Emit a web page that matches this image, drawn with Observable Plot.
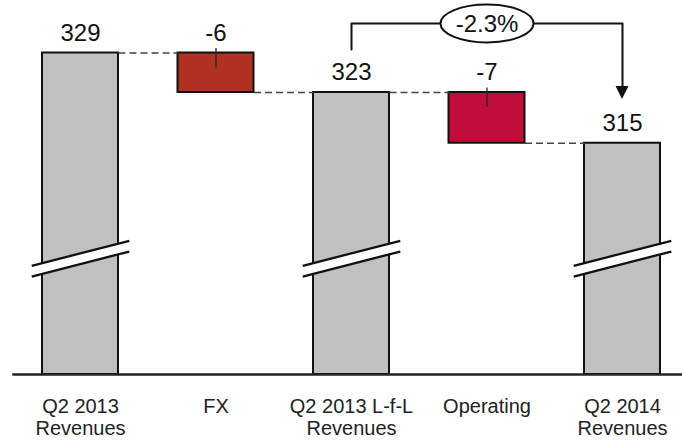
<!DOCTYPE html>
<html>
<head>
<meta charset="utf-8">
<script src="https://cdn.jsdelivr.net/npm/d3@7"></script>
<script src="https://cdn.jsdelivr.net/npm/@observablehq/plot@0.6"></script>
<style>
  html, body { margin: 0; padding: 0; background: #fff; }
  #chart svg { display: block; }
</style>
</head>
<body>
<div id="chart"></div>
<script>
// Revenue bridge, Q2 2013 -> Q2 2014
const categories = ["Q2 2013\nRevenues", "FX", "Q2 2013 L-f-L\nRevenues", "Operating", "Q2 2014\nRevenues"];
const kinds = ["total", "delta", "total", "delta", "total"];
const values = [328.7, -5.8, 322.9, -7.45, 315.45];

// styling
const colorFor = {total: "#c0c0c0", fx: "#b03222", op: "#c20c3a"};
const W = 682, H = 440;
const yDomain = [281.49, 336.41];           // bars are broken, baseline is not zero
const yRange = [374, 0];
const xDomain = [-0.5, 4.5];
const xRange = [12.25, 689.75];
const k = (yRange[0] - yRange[1]) / (yDomain[1] - yDomain[0]);   // px per unit (y)
const kx = (xRange[1] - xRange[0]) / (xDomain[1] - xDomain[0]);  // px per unit (x)
const py = px => px / k;
const px2x = px => px / kx;
const half = px2x(38);                        // half bar width
const base = yDomain[0];

// bars of the waterfall
let level = 0;
const bars = values.map((v, i) => {
  let y1, y2;
  if (kinds[i] === "total") { y1 = base; y2 = v; level = v; }
  else { y1 = level; y2 = level + v; level += v; }
  const fill = kinds[i] === "total" ? colorFor.total : (i === 1 ? colorFor.fx : colorFor.op);
  return {i, y1, y2, top: Math.max(y1, y2), end: level, fill, v, kind: kinds[i]};
});

// dashed connectors between consecutive bars
const connectors = bars.slice(0, -1).map(b => ({x1: b.i + half, x2: b.i + 1 - half, y: b.end}));

// axis-break marks on the total bars
const breakV = 298.5;
const bSpan = px2x(48.8), bRise = py(12.5), bGap = py(5.35);
const totals = bars.filter(b => b.kind === "total");
const breakArea = totals.flatMap(b => [
  {bar: b.i, x: b.i - bSpan, lo: breakV - bGap - bRise, hi: breakV + bGap - bRise},
  {bar: b.i, x: b.i + bSpan, lo: breakV - bGap + bRise, hi: breakV + bGap + bRise}
]);
const breakLines = totals.flatMap(b => [
  {x1: b.i - bSpan, x2: b.i + bSpan, y1: breakV + bGap - bRise, y2: breakV + bGap + bRise},
  {x1: b.i - bSpan, x2: b.i + bSpan, y1: breakV - bGap - bRise, y2: breakV - bGap + bRise}
]);

// small leader ticks on the delta bars
const deltas = bars.filter(b => b.kind === "delta");

// growth bracket from L-f-L revenues to Q2 2014 revenues
const from = bars[2], to = bars[4];
const bracketY = Math.max(...values) + py(29.5);
const tipY = to.top + py(43.7);
const headY = tipY + py(13);
const bracket = [
  {x: from.i, y: from.top + py(43)},
  {x: from.i, y: bracketY},
  {x: to.i, y: bracketY},
  {x: to.i, y: headY}
];
const hw = px2x(6.5);
const head = [
  {x: to.i - hw, y1: headY, y2: headY},
  {x: to.i, y1: tipY, y2: headY},
  {x: to.i + hw, y1: headY, y2: headY}
];
const growth = (to.end - from.end) / from.end * 100;
const growthLabel = growth.toFixed(1) + "%";

// ellipse symbol for the growth label
const ellipse = {
  draw(ctx) {
    const rx = 46.5, ry = 19, c = 0.5523;
    ctx.moveTo(rx, 0);
    ctx.bezierCurveTo(rx, ry * c, rx * c, ry, 0, ry);
    ctx.bezierCurveTo(-rx * c, ry, -rx, ry * c, -rx, 0);
    ctx.bezierCurveTo(-rx, -ry * c, -rx * c, -ry, 0, -ry);
    ctx.bezierCurveTo(rx * c, -ry, rx, -ry * c, rx, 0);
    ctx.closePath();
  }
};

const font = "'Liberation Sans', Arial, Helvetica, sans-serif";

const chart = Plot.plot({
  width: W,
  height: H,
  margin: 0,
  marginLeft: 0,
  marginRight: 0,
  style: {fontFamily: font, background: "#fff", overflow: "visible"},
  x: {type: "linear", domain: xDomain, range: xRange, axis: null},
  y: {domain: yDomain, range: yRange, axis: null},
  marks: [
    Plot.rectY(bars, {
      x1: d => d.i - half, x2: d => d.i + half, y1: "y1", y2: "y2",
      fill: "fill", stroke: "#111", strokeWidth: 2
    }),
    Plot.areaY(breakArea, {x: "x", y1: "lo", y2: "hi", z: "bar", fill: "#fff", curve: "linear"}),
    Plot.link(breakLines, {x1: "x1", x2: "x2", y1: "y1", y2: "y2", stroke: "#111", strokeWidth: 2.3}),
    Plot.link(connectors, {
      x1: "x1", x2: "x2", y1: "y", y2: "y",
      stroke: "#444", strokeWidth: 1.6, strokeDasharray: "7,4"
    }),
    Plot.link(deltas, {
      x1: "i", x2: "i", y1: d => d.top + py(5), y2: d => d.top - py(14.5),
      stroke: "#222", strokeWidth: 1.3
    }),
    Plot.ruleY([base], {x1: xDomain[0], x2: xDomain[1], stroke: "#222", strokeWidth: 2.5}),
    Plot.text(bars, {
      x: "i", y: "top", text: d => String(Math.round(d.v)),
      dy: -20, fontSize: 24, fill: "#111", lineAnchor: "middle"
    }),
    Plot.line(bracket, {x: "x", y: "y", stroke: "#111", strokeWidth: 2, curve: "linear"}),
    Plot.areaY(head, {x: "x", y1: "y1", y2: "y2", fill: "#111", curve: "linear"}),
    Plot.dot([{x: 3, y: bracketY}], {x: "x", y: "y", symbol: ellipse, fill: "#fff", stroke: "#111", strokeWidth: 2}),
    Plot.text([growthLabel], {x: 3, y: bracketY, text: d => d, fontSize: 24, fill: "#111", lineAnchor: "middle", dy: 1}),
    Plot.text(categories, {
      x: (d, i) => i, y: base, text: d => d,
      fontSize: 20, fill: "#222", lineAnchor: "top", lineHeight: 1.1, dy: 23
    })
  ]
});

document.getElementById("chart").appendChild(chart);
</script>
</body>
</html>
